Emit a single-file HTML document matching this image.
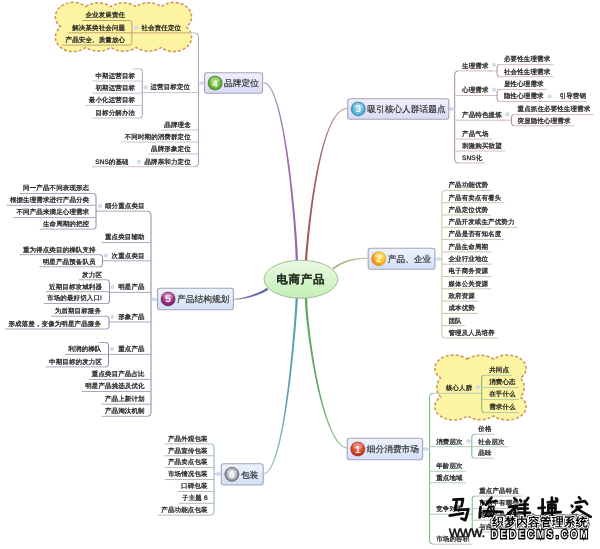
<!DOCTYPE html>
<html><head><meta charset="utf-8"><style>
html,body{margin:0;padding:0;background:#fff;}
svg{display:block;font-family:"Liberation Sans", sans-serif;text-rendering:geometricPrecision;will-change:transform;filter:blur(0.3px);}
</style></head><body>
<svg width="600" height="549" viewBox="0 0 600 549">
<rect width="600" height="549" fill="#fff"/>

<defs>
<linearGradient id="gc" x1="0" y1="0" x2="0" y2="1"><stop offset="0" stop-color="#eafae4"/><stop offset="1" stop-color="#c2f0b4"/></linearGradient>
<linearGradient id="gb" x1="0" y1="0" x2="0" y2="1"><stop offset="0" stop-color="#f0f0fc"/><stop offset="1" stop-color="#d8daf4"/></linearGradient>
<linearGradient id="gb2" x1="0" y1="0" x2="0" y2="1"><stop offset="0" stop-color="#eef3fc"/><stop offset="1" stop-color="#d2e0f6"/></linearGradient>
<radialGradient id="ig" cx="0.5" cy="0.5" r="0.5"><stop offset="0" stop-color="#a8d860"/><stop offset="0.7" stop-color="#72b838"/><stop offset="1" stop-color="#3a8a28"/></radialGradient>
<radialGradient id="ib" cx="0.5" cy="0.5" r="0.5"><stop offset="0" stop-color="#90d8ec"/><stop offset="0.7" stop-color="#5cb8d8"/><stop offset="1" stop-color="#2c88b0"/></radialGradient>
<radialGradient id="io" cx="0.65" cy="0.4" r="0.7"><stop offset="0" stop-color="#ffe040"/><stop offset="0.6" stop-color="#f8b020"/><stop offset="1" stop-color="#f07a10"/></radialGradient>
<radialGradient id="ir" cx="0.5" cy="0.4" r="0.6"><stop offset="0" stop-color="#f08060"/><stop offset="0.6" stop-color="#d84a30"/><stop offset="1" stop-color="#b02818"/></radialGradient>
<radialGradient id="iy" cx="0.5" cy="0.5" r="0.5"><stop offset="0" stop-color="#f4f4f4"/><stop offset="0.55" stop-color="#c0c0c8"/><stop offset="1" stop-color="#6a6a72"/></radialGradient>
<radialGradient id="ip" cx="0.5" cy="0.4" r="0.6"><stop offset="0" stop-color="#c878b0"/><stop offset="0.6" stop-color="#9a3a80"/><stop offset="1" stop-color="#6a1a58"/></radialGradient>
</defs>

<linearGradient id="cg1" gradientUnits="userSpaceOnUse" x1="296.8" y1="261" x2="263.7" y2="82.8"><stop offset="0" stop-color="#9a68ae"/><stop offset="0.55" stop-color="#9a68ae"/><stop offset="1" stop-color="#a898b0"/></linearGradient>
<path d="M298.00,261.00 L297.98,259.76 L297.94,258.31 L297.88,256.65 L297.79,254.80 L297.70,252.76 L297.58,250.54 L297.44,248.14 L297.28,245.58 L297.11,242.86 L296.91,239.99 L296.70,236.98 L296.47,233.83 L296.22,230.56 L295.95,227.17 L295.66,223.67 L295.35,220.07 L295.03,216.37 L294.69,212.59 L294.32,208.73 L293.94,204.80 L293.54,200.81 L293.13,196.76 L292.69,192.67 L292.24,188.54 L291.76,184.38 L291.27,180.20 L290.76,176.01 L290.24,171.81 L289.69,167.61 L289.13,163.43 L288.55,159.26 L287.95,155.12 L287.33,151.01 L286.70,146.95 L286.05,142.93 L285.38,138.98 L284.69,135.09 L283.99,131.28 L283.26,127.54 L282.52,123.90 L281.76,120.36 L280.99,116.93 L280.20,113.61 L279.39,110.41 L278.56,107.34 L277.71,104.41 L276.85,101.63 L275.97,99.00 L275.07,96.53 L274.15,94.23 L273.21,92.11 L272.26,90.18 L271.28,88.43 L270.28,86.89 L269.26,85.55 L268.22,84.43 L267.14,83.54 L266.02,82.88 L264.88,82.48 L263.70,82.35 L263.70,83.25 L264.66,83.38 L265.61,83.74 L266.56,84.33 L267.52,85.15 L268.47,86.21 L269.42,87.49 L270.36,88.98 L271.28,90.68 L272.19,92.58 L273.09,94.67 L273.97,96.94 L274.83,99.39 L275.68,102.00 L276.51,104.76 L277.33,107.68 L278.13,110.73 L278.91,113.92 L279.67,117.23 L280.42,120.65 L281.15,124.19 L281.86,127.82 L282.56,131.54 L283.24,135.35 L283.90,139.23 L284.54,143.18 L285.17,147.19 L285.78,151.25 L286.37,155.35 L286.94,159.48 L287.49,163.65 L288.03,167.83 L288.55,172.02 L289.05,176.22 L289.53,180.41 L290.00,184.58 L290.45,188.74 L290.87,192.86 L291.28,196.95 L291.68,200.99 L292.05,204.98 L292.41,208.90 L292.74,212.76 L293.06,216.54 L293.36,220.23 L293.64,223.83 L293.90,227.33 L294.15,230.71 L294.37,233.98 L294.58,237.12 L294.77,240.13 L294.94,242.99 L295.09,245.70 L295.22,248.26 L295.33,250.65 L295.42,252.86 L295.50,254.89 L295.55,256.73 L295.59,258.36 L295.60,259.79 L295.60,261.00Z" fill="url(#cg1)" stroke="none"/>
<linearGradient id="cg2" gradientUnits="userSpaceOnUse" x1="305.9" y1="261" x2="347" y2="108.6"><stop offset="0" stop-color="#a45a5a"/><stop offset="0.55" stop-color="#a45a5a"/><stop offset="1" stop-color="#b89898"/></linearGradient>
<path d="M305.90,261.00 L307.09,260.96 L307.11,260.59 L307.14,259.98 L307.19,259.14 L307.25,258.09 L307.34,256.82 L307.45,255.35 L307.57,253.69 L307.71,251.83 L307.88,249.81 L308.06,247.61 L308.26,245.25 L308.49,242.74 L308.73,240.08 L309.00,237.29 L309.29,234.37 L309.59,231.34 L309.93,228.19 L310.28,224.94 L310.65,221.60 L311.05,218.17 L311.47,214.67 L311.92,211.10 L312.39,207.48 L312.88,203.80 L313.40,200.08 L313.94,196.32 L314.51,192.54 L315.10,188.74 L315.71,184.94 L316.36,181.13 L317.02,177.34 L317.72,173.56 L318.44,169.80 L319.19,166.08 L319.96,162.41 L320.76,158.78 L321.59,155.21 L322.45,151.71 L323.33,148.29 L324.24,144.96 L325.19,141.71 L326.16,138.57 L327.15,135.54 L328.18,132.63 L329.24,129.85 L330.33,127.21 L331.44,124.71 L332.59,122.36 L333.76,120.17 L334.96,118.16 L336.19,116.33 L337.45,114.68 L338.74,113.23 L340.05,111.99 L341.39,110.96 L342.75,110.14 L344.14,109.55 L345.55,109.18 L347.00,109.05 L347.00,108.15 L345.40,108.27 L343.84,108.65 L342.31,109.27 L340.83,110.13 L339.39,111.21 L337.99,112.50 L336.63,114.00 L335.30,115.68 L334.02,117.56 L332.76,119.60 L331.54,121.82 L330.36,124.19 L329.20,126.72 L328.08,129.39 L326.99,132.19 L325.93,135.12 L324.89,138.17 L323.89,141.32 L322.92,144.58 L321.98,147.93 L321.07,151.36 L320.18,154.87 L319.32,158.45 L318.49,162.08 L317.69,165.77 L316.92,169.50 L316.17,173.26 L315.45,177.05 L314.76,180.85 L314.09,184.66 L313.44,188.47 L312.83,192.28 L312.23,196.06 L311.67,199.82 L311.12,203.55 L310.60,207.23 L310.11,210.87 L309.64,214.44 L309.19,217.95 L308.77,221.38 L308.37,224.72 L307.99,227.97 L307.63,231.12 L307.30,234.16 L306.98,237.09 L306.69,239.88 L306.42,242.54 L306.17,245.05 L305.94,247.42 L305.73,249.62 L305.55,251.65 L305.38,253.50 L305.23,255.17 L305.10,256.64 L304.99,257.91 L304.89,258.97 L304.82,259.81 L304.76,260.42 L304.72,260.79 L305.90,261.00Z" fill="url(#cg2)" stroke="none"/>
<linearGradient id="cg3" gradientUnits="userSpaceOnUse" x1="332.9" y1="268.75" x2="367.9" y2="258.3"><stop offset="0" stop-color="#bdb58a"/><stop offset="0.55" stop-color="#bdb58a"/><stop offset="1" stop-color="#c8c4a8"/></linearGradient>
<path d="M333.56,269.63 L334.00,269.30 L334.44,268.97 L334.89,268.64 L335.34,268.32 L335.78,268.00 L336.24,267.69 L336.69,267.38 L337.15,267.08 L337.60,266.79 L338.07,266.50 L338.53,266.21 L339.00,265.93 L339.47,265.66 L339.94,265.39 L340.42,265.12 L340.90,264.86 L341.39,264.61 L341.87,264.36 L342.37,264.11 L342.86,263.88 L343.36,263.64 L343.87,263.41 L344.38,263.19 L344.90,262.97 L345.42,262.76 L345.94,262.55 L346.47,262.35 L347.01,262.16 L347.55,261.97 L348.10,261.78 L348.65,261.60 L349.21,261.43 L349.78,261.26 L350.35,261.09 L350.93,260.94 L351.51,260.78 L352.10,260.64 L352.70,260.50 L353.31,260.36 L353.92,260.23 L354.54,260.11 L355.17,259.99 L355.80,259.87 L356.45,259.77 L357.10,259.66 L357.75,259.57 L358.42,259.48 L359.10,259.40 L359.78,259.32 L360.47,259.24 L361.17,259.18 L361.88,259.12 L362.60,259.06 L363.33,259.01 L364.07,258.97 L364.82,258.94 L365.57,258.91 L366.34,258.88 L367.11,258.86 L367.90,258.85 L367.90,257.75 L367.11,257.74 L366.32,257.74 L365.54,257.75 L364.78,257.76 L364.02,257.78 L363.27,257.81 L362.53,257.84 L361.80,257.87 L361.08,257.92 L360.36,257.97 L359.66,258.02 L358.96,258.08 L358.27,258.15 L357.59,258.22 L356.91,258.30 L356.24,258.39 L355.58,258.48 L354.93,258.58 L354.28,258.68 L353.64,258.79 L353.01,258.90 L352.39,259.03 L351.77,259.15 L351.15,259.29 L350.55,259.42 L349.95,259.57 L349.35,259.72 L348.76,259.88 L348.18,260.04 L347.60,260.21 L347.03,260.38 L346.46,260.56 L345.90,260.75 L345.35,260.94 L344.79,261.13 L344.25,261.34 L343.71,261.55 L343.17,261.76 L342.64,261.98 L342.11,262.21 L341.58,262.44 L341.06,262.67 L340.55,262.92 L340.03,263.16 L339.52,263.42 L339.02,263.68 L338.52,263.94 L338.02,264.21 L337.52,264.49 L337.03,264.77 L336.54,265.05 L336.05,265.34 L335.57,265.64 L335.09,265.94 L334.61,266.25 L334.13,266.56 L333.66,266.88 L333.18,267.20 L332.71,267.53 L332.24,267.87Z" fill="url(#cg3)" stroke="none"/>
<linearGradient id="cg4" gradientUnits="userSpaceOnUse" x1="267.5" y1="288.75" x2="233.75" y2="299.2"><stop offset="0" stop-color="#6464aa"/><stop offset="0.55" stop-color="#6464aa"/><stop offset="1" stop-color="#a0a0c0"/></linearGradient>
<path d="M266.71,287.72 L266.45,287.93 L266.18,288.14 L265.89,288.36 L265.58,288.58 L265.25,288.80 L264.90,289.03 L264.53,289.26 L264.15,289.50 L263.75,289.74 L263.33,289.98 L262.90,290.22 L262.45,290.46 L261.99,290.70 L261.52,290.94 L261.03,291.19 L260.53,291.43 L260.02,291.68 L259.50,291.92 L258.96,292.17 L258.42,292.41 L257.86,292.65 L257.30,292.89 L256.73,293.13 L256.15,293.37 L255.56,293.60 L254.96,293.83 L254.36,294.06 L253.75,294.29 L253.13,294.52 L252.51,294.74 L251.88,294.96 L251.25,295.17 L250.62,295.38 L249.98,295.59 L249.34,295.79 L248.69,295.98 L248.05,296.18 L247.40,296.36 L246.75,296.55 L246.10,296.72 L245.45,296.89 L244.81,297.06 L244.16,297.22 L243.51,297.37 L242.87,297.52 L242.22,297.65 L241.59,297.79 L240.95,297.91 L240.32,298.03 L239.69,298.14 L239.07,298.24 L238.45,298.33 L237.84,298.41 L237.23,298.49 L236.63,298.56 L236.04,298.61 L235.45,298.66 L234.88,298.70 L234.31,298.73 L233.75,298.75 L233.75,299.65 L234.33,299.66 L234.91,299.66 L235.50,299.65 L236.11,299.63 L236.71,299.59 L237.33,299.55 L237.95,299.51 L238.58,299.45 L239.22,299.38 L239.86,299.31 L240.50,299.22 L241.15,299.13 L241.81,299.03 L242.47,298.93 L243.13,298.81 L243.79,298.69 L244.45,298.57 L245.12,298.43 L245.78,298.29 L246.45,298.15 L247.12,298.00 L247.79,297.84 L248.45,297.67 L249.12,297.51 L249.78,297.33 L250.44,297.16 L251.10,296.97 L251.76,296.79 L252.41,296.59 L253.05,296.40 L253.70,296.20 L254.33,296.00 L254.97,295.79 L255.59,295.59 L256.21,295.38 L256.82,295.16 L257.43,294.95 L258.02,294.73 L258.61,294.51 L259.19,294.29 L259.76,294.06 L260.33,293.84 L260.88,293.62 L261.42,293.39 L261.95,293.16 L262.46,292.94 L262.97,292.71 L263.46,292.48 L263.94,292.25 L264.41,292.02 L264.87,291.80 L265.31,291.57 L265.73,291.34 L266.15,291.12 L266.54,290.89 L266.92,290.67 L267.29,290.45 L267.64,290.22 L267.98,290.00 L268.29,289.78Z" fill="url(#cg4)" stroke="none"/>
<linearGradient id="cg5" gradientUnits="userSpaceOnUse" x1="296.8" y1="297.5" x2="263.5" y2="473.7"><stop offset="0" stop-color="#5a9cb0"/><stop offset="0.55" stop-color="#5a9cb0"/><stop offset="1" stop-color="#98c0c8"/></linearGradient>
<path d="M295.60,297.50 L295.60,297.81 L295.59,298.43 L295.56,299.31 L295.51,300.45 L295.44,301.82 L295.35,303.43 L295.25,305.26 L295.12,307.31 L294.98,309.56 L294.82,312.00 L294.65,314.63 L294.45,317.44 L294.24,320.41 L294.00,323.53 L293.75,326.81 L293.48,330.22 L293.19,333.76 L292.89,337.41 L292.56,341.18 L292.22,345.05 L291.86,349.01 L291.48,353.05 L291.08,357.16 L290.66,361.33 L290.23,365.56 L289.77,369.82 L289.30,374.13 L288.81,378.46 L288.30,382.80 L287.77,387.15 L287.22,391.49 L286.65,395.82 L286.07,400.13 L285.47,404.41 L284.84,408.64 L284.20,412.83 L283.54,416.95 L282.86,421.00 L282.16,424.98 L281.45,428.86 L280.71,432.65 L279.96,436.33 L279.18,439.89 L278.39,443.33 L277.58,446.63 L276.75,449.78 L275.90,452.78 L275.03,455.61 L274.15,458.27 L273.24,460.75 L272.32,463.02 L271.38,465.10 L270.43,466.96 L269.46,468.60 L268.48,470.00 L267.49,471.16 L266.49,472.07 L265.50,472.72 L264.50,473.11 L263.50,473.25 L263.50,474.15 L264.73,474.01 L265.93,473.56 L267.08,472.84 L268.20,471.86 L269.29,470.63 L270.34,469.17 L271.37,467.49 L272.37,465.58 L273.35,463.47 L274.31,461.16 L275.25,458.66 L276.17,455.98 L277.07,453.13 L277.95,450.12 L278.81,446.95 L279.65,443.63 L280.47,440.19 L281.28,436.61 L282.06,432.92 L282.82,429.13 L283.56,425.24 L284.29,421.25 L285.00,417.19 L285.68,413.06 L286.35,408.87 L287.00,404.63 L287.63,400.35 L288.24,396.04 L288.83,391.70 L289.41,387.35 L289.96,383.00 L290.50,378.66 L291.01,374.32 L291.51,370.02 L291.99,365.75 L292.45,361.52 L292.90,357.34 L293.32,353.23 L293.73,349.19 L294.11,345.23 L294.48,341.36 L294.83,337.59 L295.16,333.92 L295.48,330.38 L295.77,326.97 L296.05,323.69 L296.30,320.57 L296.54,317.59 L296.77,314.79 L296.97,312.16 L297.15,309.71 L297.32,307.46 L297.47,305.41 L297.60,303.57 L297.71,301.96 L297.80,300.58 L297.88,299.44 L297.94,298.54 L297.98,297.90 L298.00,297.50Z" fill="url(#cg5)" stroke="none"/>
<linearGradient id="cg6" gradientUnits="userSpaceOnUse" x1="306" y1="297.5" x2="348.2" y2="448.2"><stop offset="0" stop-color="#5fa860"/><stop offset="0.55" stop-color="#5fa860"/><stop offset="1" stop-color="#98c098"/></linearGradient>
<path d="M304.80,297.50 L304.83,298.92 L304.88,300.50 L304.96,302.22 L305.06,304.08 L305.19,306.08 L305.35,308.21 L305.53,310.47 L305.73,312.85 L305.97,315.34 L306.22,317.93 L306.50,320.63 L306.81,323.42 L307.14,326.30 L307.50,329.27 L307.88,332.31 L308.28,335.42 L308.71,338.59 L309.16,341.83 L309.64,345.11 L310.13,348.44 L310.66,351.81 L311.20,355.22 L311.77,358.65 L312.36,362.10 L312.98,365.57 L313.62,369.05 L314.28,372.53 L314.96,376.00 L315.67,379.47 L316.39,382.92 L317.14,386.35 L317.91,389.75 L318.71,393.12 L319.52,396.44 L320.36,399.72 L321.22,402.95 L322.10,406.12 L323.00,409.22 L323.92,412.26 L324.86,415.21 L325.82,418.08 L326.81,420.87 L327.81,423.55 L328.84,426.14 L329.88,428.62 L330.95,430.98 L332.04,433.23 L333.15,435.35 L334.27,437.33 L335.42,439.18 L336.60,440.89 L337.79,442.44 L339.01,443.84 L340.24,445.08 L341.51,446.14 L342.80,447.03 L344.11,447.74 L345.45,448.25 L346.82,448.55 L348.20,448.65 L348.20,447.75 L346.96,447.64 L345.74,447.34 L344.53,446.85 L343.33,446.18 L342.14,445.33 L340.96,444.31 L339.80,443.11 L338.65,441.75 L337.51,440.23 L336.39,438.56 L335.29,436.74 L334.20,434.78 L333.13,432.68 L332.08,430.46 L331.05,428.11 L330.04,425.65 L329.05,423.08 L328.08,420.41 L327.12,417.64 L326.19,414.78 L325.28,411.84 L324.39,408.82 L323.52,405.72 L322.67,402.56 L321.84,399.34 L321.03,396.07 L320.24,392.75 L319.47,389.40 L318.73,386.00 L318.01,382.58 L317.31,379.14 L316.63,375.68 L315.97,372.21 L315.34,368.73 L314.73,365.26 L314.14,361.80 L313.57,358.35 L313.03,354.93 L312.51,351.53 L312.01,348.16 L311.54,344.84 L311.09,341.56 L310.67,338.33 L310.26,335.16 L309.89,332.06 L309.53,329.03 L309.20,326.07 L308.90,323.20 L308.62,320.41 L308.36,317.73 L308.13,315.14 L307.93,312.66 L307.75,310.30 L307.59,308.06 L307.46,305.94 L307.36,303.96 L307.28,302.12 L307.23,300.42 L307.20,298.88 L307.20,297.50Z" fill="url(#cg6)" stroke="none"/>
<path d="M85.76,6.60 A22.82,22.82 0 0 1 110.92,6.60 A22.82,22.82 0 0 1 136.08,6.60 A22.82,22.82 0 0 1 161.24,6.60 A17.79,14.42 0 1 1 186.40,27.00 A17.79,14.42 0 1 1 161.24,47.40 A22.82,22.82 0 0 1 136.08,47.40 A22.82,22.82 0 0 1 110.92,47.40 A22.82,22.82 0 0 1 85.76,47.40 A17.79,14.42 0 1 1 60.60,27.00 A17.79,14.42 0 1 1 85.76,6.60Z" fill="#fcf4a0" stroke="#d0905a" stroke-width="1.5" stroke-dasharray="3,2"/>
<path d="M467.20,359.10 A25.29,25.29 0 0 1 493.80,359.10 A18.81,13.39 0 1 1 520.40,378.03 A13.74,13.74 0 0 1 520.40,396.97 A18.81,13.39 0 1 1 493.80,415.90 A25.29,25.29 0 0 1 467.20,415.90 A18.81,13.39 0 1 1 440.60,396.97 A13.74,13.74 0 0 1 440.60,378.03 A18.81,13.39 0 1 1 467.20,359.10Z" fill="#fcf4a0" stroke="#d0905a" stroke-width="1.5" stroke-dasharray="3,2"/>
<path d="M194.9,32.9Q198.4,32.9 198.4,36.4V163.2Q198.4,166.7 194.9,166.7" fill="none" stroke="#a898b8" stroke-width="1.0" />
<path d="M198.4,83.1H204.5" fill="none" stroke="#c8cce8" stroke-width="1.6" />
<circle cx="201.4" cy="83.1" r="2.1" fill="#d2daee" stroke="none" stroke-width="0"/>
<text x="181.1" y="29.7" text-anchor="end" font-size="6.5" fill="#2a2a2a" font-weight="normal" stroke="#2a2a2a" stroke-width="0.3" textLength="39.6" lengthAdjust="spacing" >社会责任定位</text>
<path d="M131.9,32.9H189" fill="none" stroke="#c8a878" stroke-width="1.0" />
<path d="M189,32.9H194.9" fill="none" stroke="#cdbfd6" stroke-width="1.0" />
<circle cx="136.1" cy="27.5" r="2.1" fill="#d2daee" stroke="none" stroke-width="0"/>
<path d="M129.4,20.5Q131.9,20.5 131.9,23.0V42.6Q131.9,45.1 129.4,45.1" fill="none" stroke="#b8a078" stroke-width="1.0" />
<text x="125" y="17.3" text-anchor="end" font-size="6.5" fill="#2a2a2a" font-weight="normal" stroke="#2a2a2a" stroke-width="0.3" textLength="39.6" lengthAdjust="spacing" >企业发展责任</text>
<path d="M82.1,20.5H129.4" fill="none" stroke="#c0a070" stroke-width="1.0" />
<text x="125" y="29.599999999999998" text-anchor="end" font-size="6.5" fill="#2a2a2a" font-weight="normal" stroke="#2a2a2a" stroke-width="0.3" textLength="52.8" lengthAdjust="spacing" >解决某类社会问题</text>
<path d="M68.9,32.8H131.9" fill="none" stroke="#c0a070" stroke-width="1.0" />
<text x="125" y="41.9" text-anchor="end" font-size="6.5" fill="#2a2a2a" font-weight="normal" stroke="#2a2a2a" stroke-width="0.3" textLength="59.4" lengthAdjust="spacing" >产品安全、质量放心</text>
<path d="M62.3,45.1H129.4" fill="none" stroke="#c0a070" stroke-width="1.0" />
<text x="190.1" y="89.39999999999999" text-anchor="end" font-size="6.5" fill="#2a2a2a" font-weight="normal" stroke="#2a2a2a" stroke-width="0.3" textLength="39.6" lengthAdjust="spacing" >运营目标定位</text>
<path d="M142.3,92.6H198.4" fill="none" stroke="#cdbfd6" stroke-width="1.0" />
<circle cx="145.7" cy="87.3" r="2.1" fill="#d2daee" stroke="none" stroke-width="0"/>
<path d="M139.8,68.9Q142.3,68.9 142.3,71.4V115.5Q142.3,118 139.8,118" fill="none" stroke="#a898b8" stroke-width="1.0" />
<path d="M133,68.9H139.8" fill="none" stroke="#cdbfd6" stroke-width="1.0" />
<text x="135" y="77.89999999999999" text-anchor="end" font-size="6.5" fill="#2a2a2a" font-weight="normal" stroke="#2a2a2a" stroke-width="0.3" textLength="39.6" lengthAdjust="spacing" >中期运营目标</text>
<path d="M92.1,81.1H142.3" fill="none" stroke="#cdbfd6" stroke-width="1.0" />
<text x="135" y="90.0" text-anchor="end" font-size="6.5" fill="#2a2a2a" font-weight="normal" stroke="#2a2a2a" stroke-width="0.3" textLength="39.6" lengthAdjust="spacing" >初期运营目标</text>
<path d="M92.1,93.2H142.3" fill="none" stroke="#cdbfd6" stroke-width="1.0" />
<text x="135" y="102.2" text-anchor="end" font-size="6.5" fill="#2a2a2a" font-weight="normal" stroke="#2a2a2a" stroke-width="0.3" textLength="46.2" lengthAdjust="spacing" >最小化运营目标</text>
<path d="M85.5,105.4H142.3" fill="none" stroke="#cdbfd6" stroke-width="1.0" />
<text x="135" y="114.8" text-anchor="end" font-size="6.5" fill="#2a2a2a" font-weight="normal" stroke="#2a2a2a" stroke-width="0.3" textLength="39.6" lengthAdjust="spacing" >目标分解办法</text>
<path d="M92.1,118H139.8" fill="none" stroke="#cdbfd6" stroke-width="1.0" />
<text x="190.7" y="126.8" text-anchor="end" font-size="6.5" fill="#2a2a2a" font-weight="normal" stroke="#2a2a2a" stroke-width="0.3" textLength="26.4" lengthAdjust="spacing" >品牌理念</text>
<path d="M161.0,130H198.4" fill="none" stroke="#cdbfd6" stroke-width="1.0" />
<text x="190.7" y="138.8" text-anchor="end" font-size="6.5" fill="#2a2a2a" font-weight="normal" stroke="#2a2a2a" stroke-width="0.3" textLength="66.0" lengthAdjust="spacing" >不同时期的消费群定位</text>
<path d="M121.4,142H198.4" fill="none" stroke="#cdbfd6" stroke-width="1.0" />
<text x="190.7" y="150.8" text-anchor="end" font-size="6.5" fill="#2a2a2a" font-weight="normal" stroke="#2a2a2a" stroke-width="0.3" textLength="39.6" lengthAdjust="spacing" >品牌形象定位</text>
<path d="M147.8,154H198.4" fill="none" stroke="#cdbfd6" stroke-width="1.0" />
<text x="190.7" y="163.5" text-anchor="end" font-size="6.5" fill="#2a2a2a" font-weight="normal" stroke="#2a2a2a" stroke-width="0.3" textLength="46.2" lengthAdjust="spacing" >品牌亲和力定位</text>
<circle cx="139" cy="161.8" r="2.1" fill="#d2daee" stroke="none" stroke-width="0"/>
<text x="128.5" y="163.5" text-anchor="end" font-size="6.5" fill="#2a2a2a" font-weight="normal" stroke="#2a2a2a" stroke-width="0.3" textLength="33.3" lengthAdjust="spacing" >SNS的基础</text>
<path d="M91.9,166.7H194.9" fill="none" stroke="#cdbfd6" stroke-width="1.0" />
<path d="M458.2,70.9Q454.7,70.9 454.7,74.4V159.5Q454.7,163 458.2,163" fill="none" stroke="#a89098" stroke-width="1.0" />
<path d="M449,109.1H454.7" fill="none" stroke="#c8cce8" stroke-width="1.6" />
<circle cx="451.5" cy="109.1" r="2.1" fill="#d2daee" stroke="none" stroke-width="0"/>
<text x="462.1" y="67.7" text-anchor="start" font-size="6.5" fill="#2a2a2a" font-weight="normal" stroke="#2a2a2a" stroke-width="0.3" textLength="26.4" lengthAdjust="spacing" >生理需求</text>
<path d="M458.2,70.9H491.8" fill="none" stroke="#d0bcc2" stroke-width="1.0" />
<path d="M488,70.9H497.1" fill="none" stroke="#d0bcc2" stroke-width="1.0" />
<circle cx="494" cy="64.8" r="2.1" fill="#d2daee" stroke="none" stroke-width="0"/>
<path d="M499.6,64.6Q497.1,64.6 497.1,67.1V74.2Q497.1,76.7 499.6,76.7" fill="none" stroke="#a89098" stroke-width="1.0" />
<text x="504" y="61.39999999999999" text-anchor="start" font-size="6.5" fill="#2a2a2a" font-weight="normal" stroke="#2a2a2a" stroke-width="0.3" textLength="46.2" lengthAdjust="spacing" >必要性生理需求</text>
<path d="M499.6,64.6H553.5" fill="none" stroke="#d0bcc2" stroke-width="1.0" />
<text x="504" y="73.5" text-anchor="start" font-size="6.5" fill="#2a2a2a" font-weight="normal" stroke="#2a2a2a" stroke-width="0.3" textLength="46.2" lengthAdjust="spacing" >社会性生理需求</text>
<path d="M499.6,76.7H553.5" fill="none" stroke="#d0bcc2" stroke-width="1.0" />
<text x="462.1" y="92.3" text-anchor="start" font-size="6.5" fill="#2a2a2a" font-weight="normal" stroke="#2a2a2a" stroke-width="0.3" textLength="26.4" lengthAdjust="spacing" >心理需求</text>
<path d="M454.7,95.5H491.8" fill="none" stroke="#d0bcc2" stroke-width="1.0" />
<path d="M488,95.5H497.1" fill="none" stroke="#d0bcc2" stroke-width="1.0" />
<circle cx="494" cy="89.6" r="2.1" fill="#d2daee" stroke="none" stroke-width="0"/>
<path d="M499.6,89.4Q497.1,89.4 497.1,91.9V99.0Q497.1,101.5 499.6,101.5" fill="none" stroke="#a89098" stroke-width="1.0" />
<text x="504" y="86.2" text-anchor="start" font-size="6.5" fill="#2a2a2a" font-weight="normal" stroke="#2a2a2a" stroke-width="0.3" textLength="39.6" lengthAdjust="spacing" >显性心理需求</text>
<path d="M499.6,89.4H546.9" fill="none" stroke="#d0bcc2" stroke-width="1.0" />
<text x="504" y="98.3" text-anchor="start" font-size="6.5" fill="#2a2a2a" font-weight="normal" stroke="#2a2a2a" stroke-width="0.3" textLength="39.6" lengthAdjust="spacing" >隐性心理需求</text>
<path d="M499.6,101.5H546.9" fill="none" stroke="#d0bcc2" stroke-width="1.0" />
<path d="M545,101.5H587" fill="none" stroke="#d0bcc2" stroke-width="1.0" />
<circle cx="549.6" cy="96.5" r="2.1" fill="#d2daee" stroke="none" stroke-width="0"/>
<text x="559.6" y="98.3" text-anchor="start" font-size="6.5" fill="#2a2a2a" font-weight="normal" stroke="#2a2a2a" stroke-width="0.3" textLength="26.4" lengthAdjust="spacing" >引导营销</text>
<text x="462.1" y="117.0" text-anchor="start" font-size="6.5" fill="#2a2a2a" font-weight="normal" stroke="#2a2a2a" stroke-width="0.3" textLength="39.6" lengthAdjust="spacing" >产品特色提炼</text>
<path d="M454.7,120.2H505.0" fill="none" stroke="#d0bcc2" stroke-width="1.0" />
<path d="M501,120.2H511.5" fill="none" stroke="#d0bcc2" stroke-width="1.0" />
<circle cx="507.3" cy="114.4" r="2.1" fill="#d2daee" stroke="none" stroke-width="0"/>
<path d="M514.0,114.6Q511.5,114.6 511.5,117.1V123.3Q511.5,125.8 514.0,125.8" fill="none" stroke="#a89098" stroke-width="1.0" />
<text x="517.6" y="111.39999999999999" text-anchor="start" font-size="6.5" fill="#2a2a2a" font-weight="normal" stroke="#2a2a2a" stroke-width="0.3" textLength="72.6" lengthAdjust="spacing" >重点抓住必要性生理需求</text>
<path d="M514.0,114.6H593.5" fill="none" stroke="#d0bcc2" stroke-width="1.0" />
<text x="517.6" y="122.6" text-anchor="start" font-size="6.5" fill="#2a2a2a" font-weight="normal" stroke="#2a2a2a" stroke-width="0.3" textLength="52.8" lengthAdjust="spacing" >突显隐性心理需求</text>
<path d="M514.0,125.8H573.7" fill="none" stroke="#d0bcc2" stroke-width="1.0" />
<text x="462.1" y="135.9" text-anchor="start" font-size="6.5" fill="#2a2a2a" font-weight="normal" stroke="#2a2a2a" stroke-width="0.3" textLength="26.4" lengthAdjust="spacing" >产品气场</text>
<path d="M454.7,139.1H491.8" fill="none" stroke="#d0bcc2" stroke-width="1.0" />
<text x="462.1" y="147.8" text-anchor="start" font-size="6.5" fill="#2a2a2a" font-weight="normal" stroke="#2a2a2a" stroke-width="0.3" textLength="39.6" lengthAdjust="spacing" >刺激购买欲望</text>
<path d="M454.7,151H505.0" fill="none" stroke="#d0bcc2" stroke-width="1.0" />
<text x="462.1" y="159.8" text-anchor="start" font-size="6.5" fill="#2a2a2a" font-weight="normal" stroke="#2a2a2a" stroke-width="0.3" textLength="20.1" lengthAdjust="spacing" >SNS化</text>
<path d="M458.2,163H485.5" fill="none" stroke="#d0bcc2" stroke-width="1.0" />
<path d="M445.4,190.4Q441.9,190.4 441.9,193.9V334.5Q441.9,338.0 445.4,338.0" fill="none" stroke="#cec690" stroke-width="1.0" />
<path d="M435,258.9H441.9" fill="none" stroke="#c8cce8" stroke-width="1.6" />
<circle cx="438.5" cy="258.9" r="2.1" fill="#d2daee" stroke="none" stroke-width="0"/>
<text x="448.4" y="187.20000000000002" text-anchor="start" font-size="6.5" fill="#2a2a2a" font-weight="normal" stroke="#2a2a2a" stroke-width="0.3" textLength="39.6" lengthAdjust="spacing" >产品功能优势</text>
<path d="M445.4,190.4H491.3" fill="none" stroke="#c8c6b2" stroke-width="1.0" />
<text x="448.4" y="199.5" text-anchor="start" font-size="6.5" fill="#2a2a2a" font-weight="normal" stroke="#2a2a2a" stroke-width="0.3" textLength="52.8" lengthAdjust="spacing" >产品有卖点有看头</text>
<path d="M441.9,202.7H504.5" fill="none" stroke="#c8c6b2" stroke-width="1.0" />
<text x="448.4" y="211.8" text-anchor="start" font-size="6.5" fill="#2a2a2a" font-weight="normal" stroke="#2a2a2a" stroke-width="0.3" textLength="39.6" lengthAdjust="spacing" >产品定位优势</text>
<path d="M441.9,215.0H491.3" fill="none" stroke="#c8c6b2" stroke-width="1.0" />
<text x="448.4" y="224.10000000000002" text-anchor="start" font-size="6.5" fill="#2a2a2a" font-weight="normal" stroke="#2a2a2a" stroke-width="0.3" textLength="66.0" lengthAdjust="spacing" >产品开发或生产优势力</text>
<path d="M441.9,227.3H517.7" fill="none" stroke="#c8c6b2" stroke-width="1.0" />
<text x="448.4" y="236.4" text-anchor="start" font-size="6.5" fill="#2a2a2a" font-weight="normal" stroke="#2a2a2a" stroke-width="0.3" textLength="52.8" lengthAdjust="spacing" >产品是否有知名度</text>
<path d="M441.9,239.6H504.5" fill="none" stroke="#c8c6b2" stroke-width="1.0" />
<text x="448.4" y="248.70000000000002" text-anchor="start" font-size="6.5" fill="#2a2a2a" font-weight="normal" stroke="#2a2a2a" stroke-width="0.3" textLength="39.6" lengthAdjust="spacing" >产品生命周期</text>
<path d="M441.9,251.9H491.3" fill="none" stroke="#c8c6b2" stroke-width="1.0" />
<text x="448.4" y="261.0" text-anchor="start" font-size="6.5" fill="#2a2a2a" font-weight="normal" stroke="#2a2a2a" stroke-width="0.3" textLength="39.6" lengthAdjust="spacing" >企业行业地位</text>
<path d="M441.9,264.2H491.3" fill="none" stroke="#c8c6b2" stroke-width="1.0" />
<text x="448.4" y="273.3" text-anchor="start" font-size="6.5" fill="#2a2a2a" font-weight="normal" stroke="#2a2a2a" stroke-width="0.3" textLength="39.6" lengthAdjust="spacing" >电子商务资源</text>
<path d="M441.9,276.5H491.3" fill="none" stroke="#c8c6b2" stroke-width="1.0" />
<text x="448.4" y="285.6" text-anchor="start" font-size="6.5" fill="#2a2a2a" font-weight="normal" stroke="#2a2a2a" stroke-width="0.3" textLength="39.6" lengthAdjust="spacing" >媒体公关资源</text>
<path d="M441.9,288.8H491.3" fill="none" stroke="#c8c6b2" stroke-width="1.0" />
<text x="448.4" y="297.90000000000003" text-anchor="start" font-size="6.5" fill="#2a2a2a" font-weight="normal" stroke="#2a2a2a" stroke-width="0.3" textLength="26.4" lengthAdjust="spacing" >政府资源</text>
<path d="M441.9,301.1H478.1" fill="none" stroke="#c8c6b2" stroke-width="1.0" />
<text x="448.4" y="310.2" text-anchor="start" font-size="6.5" fill="#2a2a2a" font-weight="normal" stroke="#2a2a2a" stroke-width="0.3" textLength="26.4" lengthAdjust="spacing" >成本优势</text>
<path d="M441.9,313.4H478.1" fill="none" stroke="#c8c6b2" stroke-width="1.0" />
<text x="448.4" y="322.5" text-anchor="start" font-size="6.5" fill="#2a2a2a" font-weight="normal" stroke="#2a2a2a" stroke-width="0.3" textLength="13.2" lengthAdjust="spacing" >团队</text>
<path d="M441.9,325.7H464.9" fill="none" stroke="#c8c6b2" stroke-width="1.0" />
<text x="448.4" y="334.8" text-anchor="start" font-size="6.5" fill="#2a2a2a" font-weight="normal" stroke="#2a2a2a" stroke-width="0.3" textLength="46.2" lengthAdjust="spacing" >管理及人员培养</text>
<path d="M445.4,338.0H497.9" fill="none" stroke="#c8c6b2" stroke-width="1.0" />
<path d="M147.5,211.2Q151,211.2 151,214.7V412.8Q151,416.3 147.5,416.3" fill="none" stroke="#8888a8" stroke-width="1.0" />
<path d="M151,299.4H157.3" fill="none" stroke="#c8cce8" stroke-width="1.6" />
<circle cx="154" cy="299.4" r="2.1" fill="#d2daee" stroke="none" stroke-width="0"/>
<text x="144.6" y="208.0" text-anchor="end" font-size="6.5" fill="#2a2a2a" font-weight="normal" stroke="#2a2a2a" stroke-width="0.3" textLength="39.6" lengthAdjust="spacing" >细分重点类目</text>
<path d="M96,211.2H147.5" fill="none" stroke="#a8a8bc" stroke-width="1.0" />
<circle cx="100.1" cy="206.1" r="2.1" fill="#d2daee" stroke="none" stroke-width="0"/>
<path d="M93.5,193.5Q96,193.5 96,196.0V226.6Q96,229.1 93.5,229.1" fill="none" stroke="#8888a8" stroke-width="1.0" />
<text x="89.1" y="190.3" text-anchor="end" font-size="6.5" fill="#2a2a2a" font-weight="normal" stroke="#2a2a2a" stroke-width="0.3" textLength="66.0" lengthAdjust="spacing" >同一产品不同表现形态</text>
<path d="M19.8,193.5H93.5" fill="none" stroke="#a8a8bc" stroke-width="1.0" />
<text x="89.1" y="202.10000000000002" text-anchor="end" font-size="6.5" fill="#2a2a2a" font-weight="normal" stroke="#2a2a2a" stroke-width="0.3" textLength="79.2" lengthAdjust="spacing" >根据生理需求进行产品分类</text>
<path d="M6.6,205.3H96" fill="none" stroke="#a8a8bc" stroke-width="1.0" />
<text x="89.1" y="214.4" text-anchor="end" font-size="6.5" fill="#2a2a2a" font-weight="normal" stroke="#2a2a2a" stroke-width="0.3" textLength="72.6" lengthAdjust="spacing" >不同产品来满足心理需求</text>
<path d="M13.2,217.6H96" fill="none" stroke="#a8a8bc" stroke-width="1.0" />
<text x="89.1" y="225.9" text-anchor="end" font-size="6.5" fill="#2a2a2a" font-weight="normal" stroke="#2a2a2a" stroke-width="0.3" textLength="46.2" lengthAdjust="spacing" >生命周期的把控</text>
<path d="M39.6,229.1H93.5" fill="none" stroke="#a8a8bc" stroke-width="1.0" />
<text x="144.6" y="239.4" text-anchor="end" font-size="6.5" fill="#2a2a2a" font-weight="normal" stroke="#2a2a2a" stroke-width="0.3" textLength="39.6" lengthAdjust="spacing" >重点类目辅助</text>
<path d="M101.7,242.6H151" fill="none" stroke="#a8a8bc" stroke-width="1.0" />
<text x="144.6" y="257.6" text-anchor="end" font-size="6.5" fill="#2a2a2a" font-weight="normal" stroke="#2a2a2a" stroke-width="0.3" textLength="33.0" lengthAdjust="spacing" >次重点类目</text>
<path d="M102.5,260.8H151" fill="none" stroke="#a8a8bc" stroke-width="1.0" />
<circle cx="105.9" cy="255.7" r="2.1" fill="#d2daee" stroke="none" stroke-width="0"/>
<path d="M100.0,254.7Q102.5,254.7 102.5,257.2V264.3Q102.5,266.8 100.0,266.8" fill="none" stroke="#8888a8" stroke-width="1.0" />
<text x="95.5" y="251.5" text-anchor="end" font-size="6.5" fill="#2a2a2a" font-weight="normal" stroke="#2a2a2a" stroke-width="0.3" textLength="72.6" lengthAdjust="spacing" >重为得点类目的梯队支持</text>
<path d="M19.6,254.7H100.0" fill="none" stroke="#a8a8bc" stroke-width="1.0" />
<text x="95.5" y="263.6" text-anchor="end" font-size="6.5" fill="#2a2a2a" font-weight="normal" stroke="#2a2a2a" stroke-width="0.3" textLength="52.8" lengthAdjust="spacing" >明星产品预备队员</text>
<path d="M39.4,266.8H100.0" fill="none" stroke="#a8a8bc" stroke-width="1.0" />
<text x="144.6" y="289.2" text-anchor="end" font-size="6.5" fill="#2a2a2a" font-weight="normal" stroke="#2a2a2a" stroke-width="0.3" textLength="26.4" lengthAdjust="spacing" >明星产品</text>
<path d="M109.5,292.4H151" fill="none" stroke="#a8a8bc" stroke-width="1.0" />
<circle cx="112.5" cy="287" r="2.1" fill="#d2daee" stroke="none" stroke-width="0"/>
<path d="M107.0,279.8Q109.5,279.8 109.5,282.3V301.0Q109.5,303.5 107.0,303.5" fill="none" stroke="#8888a8" stroke-width="1.0" />
<text x="101.9" y="276.6" text-anchor="end" font-size="6.5" fill="#2a2a2a" font-weight="normal" stroke="#2a2a2a" stroke-width="0.3" textLength="19.8" lengthAdjust="spacing" >发力区</text>
<path d="M78.8,279.8H107.0" fill="none" stroke="#a8a8bc" stroke-width="1.0" />
<text x="101.9" y="288.5" text-anchor="end" font-size="6.5" fill="#2a2a2a" font-weight="normal" stroke="#2a2a2a" stroke-width="0.3" textLength="52.8" lengthAdjust="spacing" >近期目标攻城利器</text>
<path d="M45.8,291.7H109.5" fill="none" stroke="#a8a8bc" stroke-width="1.0" />
<text x="101.9" y="300.3" text-anchor="end" font-size="6.5" fill="#2a2a2a" font-weight="normal" stroke="#2a2a2a" stroke-width="0.3" textLength="54.8" lengthAdjust="spacing" >市场的最好切入口!</text>
<path d="M43.8,303.5H107.0" fill="none" stroke="#a8a8bc" stroke-width="1.0" />
<text x="144.6" y="318.8" text-anchor="end" font-size="6.5" fill="#2a2a2a" font-weight="normal" stroke="#2a2a2a" stroke-width="0.3" textLength="26.4" lengthAdjust="spacing" >形象产品</text>
<path d="M109,322H151" fill="none" stroke="#a8a8bc" stroke-width="1.0" />
<circle cx="112.3" cy="317" r="2.1" fill="#d2daee" stroke="none" stroke-width="0"/>
<path d="M106.5,316.3Q109,316.3 109,318.8V326.5Q109,329 106.5,329" fill="none" stroke="#8888a8" stroke-width="1.0" />
<text x="100.9" y="313.1" text-anchor="end" font-size="6.5" fill="#2a2a2a" font-weight="normal" stroke="#2a2a2a" stroke-width="0.3" textLength="46.2" lengthAdjust="spacing" >为后期目标服务</text>
<path d="M51.4,316.3H106.5" fill="none" stroke="#a8a8bc" stroke-width="1.0" />
<text x="100.9" y="325.8" text-anchor="end" font-size="6.5" fill="#2a2a2a" font-weight="normal" stroke="#2a2a2a" stroke-width="0.3" textLength="92.4" lengthAdjust="spacing" >形成落差，变像为明星产品服务</text>
<path d="M5.2,329H106.5" fill="none" stroke="#a8a8bc" stroke-width="1.0" />
<text x="144.6" y="351.2" text-anchor="end" font-size="6.5" fill="#2a2a2a" font-weight="normal" stroke="#2a2a2a" stroke-width="0.3" textLength="26.4" lengthAdjust="spacing" >重点产品</text>
<path d="M108.5,354.4H151" fill="none" stroke="#a8a8bc" stroke-width="1.0" />
<circle cx="112" cy="349.2" r="2.1" fill="#d2daee" stroke="none" stroke-width="0"/>
<path d="M106.0,342.5Q108.5,342.5 108.5,345.0V364.4Q108.5,366.9 106.0,366.9" fill="none" stroke="#8888a8" stroke-width="1.0" />
<path d="M98.8,342.5H106" fill="none" stroke="#a8a8bc" stroke-width="1.0" />
<text x="101.3" y="351.2" text-anchor="end" font-size="6.5" fill="#2a2a2a" font-weight="normal" stroke="#2a2a2a" stroke-width="0.3" textLength="33.0" lengthAdjust="spacing" >利润的梯队</text>
<path d="M65.0,354.4H108.5" fill="none" stroke="#a8a8bc" stroke-width="1.0" />
<text x="101.9" y="363.7" text-anchor="end" font-size="6.5" fill="#2a2a2a" font-weight="normal" stroke="#2a2a2a" stroke-width="0.3" textLength="52.8" lengthAdjust="spacing" >中期目标的发力区</text>
<path d="M45.8,366.9H106.0" fill="none" stroke="#a8a8bc" stroke-width="1.0" />
<text x="144.6" y="376.2" text-anchor="end" font-size="6.5" fill="#2a2a2a" font-weight="normal" stroke="#2a2a2a" stroke-width="0.3" textLength="52.8" lengthAdjust="spacing" >重点类目产品占比</text>
<path d="M88.5,379.4H151" fill="none" stroke="#a8a8bc" stroke-width="1.0" />
<text x="144.6" y="388.3" text-anchor="end" font-size="6.5" fill="#2a2a2a" font-weight="normal" stroke="#2a2a2a" stroke-width="0.3" textLength="59.4" lengthAdjust="spacing" >明星产品挑选及优化</text>
<path d="M81.9,391.5H151" fill="none" stroke="#a8a8bc" stroke-width="1.0" />
<text x="144.6" y="401.0" text-anchor="end" font-size="6.5" fill="#2a2a2a" font-weight="normal" stroke="#2a2a2a" stroke-width="0.3" textLength="39.6" lengthAdjust="spacing" >产品上新计划</text>
<path d="M101.7,404.2H151" fill="none" stroke="#a8a8bc" stroke-width="1.0" />
<text x="144.6" y="413.1" text-anchor="end" font-size="6.5" fill="#2a2a2a" font-weight="normal" stroke="#2a2a2a" stroke-width="0.3" textLength="39.6" lengthAdjust="spacing" >产品淘汰机制</text>
<path d="M101.7,416.3H147.5" fill="none" stroke="#a8a8bc" stroke-width="1.0" />
<path d="M210.5,443.9Q214,443.9 214,447.4V511.67999999999995Q214,515.18 210.5,515.18" fill="none" stroke="#80bcb0" stroke-width="1.0" />
<path d="M214,473.9H221.5" fill="none" stroke="#c8cce8" stroke-width="1.6" />
<circle cx="218.1" cy="473.9" r="2.1" fill="#d2daee" stroke="none" stroke-width="0"/>
<text x="207.5" y="440.7" text-anchor="end" font-size="6.5" fill="#2a2a2a" font-weight="normal" stroke="#2a2a2a" stroke-width="0.3" textLength="39.6" lengthAdjust="spacing" >产品外观包装</text>
<path d="M164.6,443.9H210.5" fill="none" stroke="#b2babe" stroke-width="1.0" />
<text x="207.5" y="452.58" text-anchor="end" font-size="6.5" fill="#2a2a2a" font-weight="normal" stroke="#2a2a2a" stroke-width="0.3" textLength="39.6" lengthAdjust="spacing" >产品宣传包装</text>
<path d="M164.6,455.78H214" fill="none" stroke="#b2babe" stroke-width="1.0" />
<text x="207.5" y="464.46000000000004" text-anchor="end" font-size="6.5" fill="#2a2a2a" font-weight="normal" stroke="#2a2a2a" stroke-width="0.3" textLength="39.6" lengthAdjust="spacing" >产品卖点包装</text>
<path d="M164.6,467.66H214" fill="none" stroke="#b2babe" stroke-width="1.0" />
<text x="207.5" y="476.34000000000003" text-anchor="end" font-size="6.5" fill="#2a2a2a" font-weight="normal" stroke="#2a2a2a" stroke-width="0.3" textLength="39.6" lengthAdjust="spacing" >市场情况包装</text>
<path d="M164.6,479.54H214" fill="none" stroke="#b2babe" stroke-width="1.0" />
<text x="207.5" y="488.22" text-anchor="end" font-size="6.5" fill="#2a2a2a" font-weight="normal" stroke="#2a2a2a" stroke-width="0.3" textLength="26.4" lengthAdjust="spacing" >口碑包装</text>
<path d="M177.8,491.42H214" fill="none" stroke="#b2babe" stroke-width="1.0" />
<text x="207.5" y="500.1" text-anchor="end" font-size="6.5" fill="#2a2a2a" font-weight="normal" stroke="#2a2a2a" stroke-width="0.3" textLength="25.5" lengthAdjust="spacing" >子主题 6</text>
<path d="M178.7,503.3H214" fill="none" stroke="#b2babe" stroke-width="1.0" />
<text x="207.5" y="511.97999999999996" text-anchor="end" font-size="6.5" fill="#2a2a2a" font-weight="normal" stroke="#2a2a2a" stroke-width="0.3" textLength="46.2" lengthAdjust="spacing" >产品功能点包装</text>
<path d="M158.0,515.18H210.5" fill="none" stroke="#b2babe" stroke-width="1.0" />
<path d="M433.1,393.3Q429.6,393.3 429.6,396.8V540.7Q429.6,544.2 433.1,544.2" fill="none" stroke="#78b078" stroke-width="1.0" />
<path d="M422.8,449H429.6" fill="none" stroke="#c8cce8" stroke-width="1.6" />
<circle cx="425.8" cy="449" r="2.1" fill="#d2daee" stroke="none" stroke-width="0"/>
<text x="445.8" y="390.1" text-anchor="start" font-size="6.5" fill="#2a2a2a" font-weight="normal" stroke="#2a2a2a" stroke-width="0.3" textLength="26.4" lengthAdjust="spacing" >核心人群</text>
<path d="M433.1,393.3H481.7" fill="none" stroke="#b4ccb4" stroke-width="1.0" />
<circle cx="478" cy="387.2" r="2.1" fill="#d2daee" stroke="none" stroke-width="0"/>
<path d="M484.2,375.3Q481.7,375.3 481.7,377.8V410.0Q481.7,412.5 484.2,412.5" fill="none" stroke="#78b078" stroke-width="1.0" />
<text x="489.2" y="372.1" text-anchor="start" font-size="6.5" fill="#2a2a2a" font-weight="normal" stroke="#2a2a2a" stroke-width="0.3" textLength="19.8" lengthAdjust="spacing" >共同点</text>
<path d="M484.2,375.3H512.3" fill="none" stroke="#b4ccb4" stroke-width="1.0" />
<text x="489.2" y="384.3" text-anchor="start" font-size="6.5" fill="#2a2a2a" font-weight="normal" stroke="#2a2a2a" stroke-width="0.3" textLength="26.4" lengthAdjust="spacing" >消费心态</text>
<path d="M481.7,387.5H518.9" fill="none" stroke="#b4ccb4" stroke-width="1.0" />
<text x="489.2" y="396.3" text-anchor="start" font-size="6.5" fill="#2a2a2a" font-weight="normal" stroke="#2a2a2a" stroke-width="0.3" textLength="26.4" lengthAdjust="spacing" >在乎什么</text>
<path d="M481.7,399.5H518.9" fill="none" stroke="#b4ccb4" stroke-width="1.0" />
<text x="489.2" y="409.3" text-anchor="start" font-size="6.5" fill="#2a2a2a" font-weight="normal" stroke="#2a2a2a" stroke-width="0.3" textLength="26.4" lengthAdjust="spacing" >需求什么</text>
<path d="M484.2,412.5H518.9" fill="none" stroke="#b4ccb4" stroke-width="1.0" />
<text x="436.2" y="443.5" text-anchor="start" font-size="6.5" fill="#2a2a2a" font-weight="normal" stroke="#2a2a2a" stroke-width="0.3" textLength="26.4" lengthAdjust="spacing" >消费层次</text>
<path d="M429.6,446.7H471.8" fill="none" stroke="#b4ccb4" stroke-width="1.0" />
<circle cx="468.5" cy="441.2" r="2.1" fill="#d2daee" stroke="none" stroke-width="0"/>
<path d="M474.3,434.2Q471.8,434.2 471.8,436.7V455.7Q471.8,458.2 474.3,458.2" fill="none" stroke="#78b078" stroke-width="1.0" />
<text x="478.2" y="431.0" text-anchor="start" font-size="6.5" fill="#2a2a2a" font-weight="normal" stroke="#2a2a2a" stroke-width="0.3" textLength="13.2" lengthAdjust="spacing" >价格</text>
<path d="M474.3,434.2H494.7" fill="none" stroke="#b4ccb4" stroke-width="1.0" />
<text x="478.2" y="443.5" text-anchor="start" font-size="6.5" fill="#2a2a2a" font-weight="normal" stroke="#2a2a2a" stroke-width="0.3" textLength="26.4" lengthAdjust="spacing" >社会层次</text>
<path d="M471.8,446.7H507.9" fill="none" stroke="#b4ccb4" stroke-width="1.0" />
<text x="478.2" y="455.0" text-anchor="start" font-size="6.5" fill="#2a2a2a" font-weight="normal" stroke="#2a2a2a" stroke-width="0.3" textLength="13.2" lengthAdjust="spacing" >品味</text>
<path d="M474.3,458.2H494.7" fill="none" stroke="#b4ccb4" stroke-width="1.0" />
<text x="436.2" y="468.1" text-anchor="start" font-size="6.5" fill="#2a2a2a" font-weight="normal" stroke="#2a2a2a" stroke-width="0.3" textLength="26.4" lengthAdjust="spacing" >年龄层次</text>
<path d="M429.6,471.3H465.9" fill="none" stroke="#b4ccb4" stroke-width="1.0" />
<text x="436.2" y="479.6" text-anchor="start" font-size="6.5" fill="#2a2a2a" font-weight="normal" stroke="#2a2a2a" stroke-width="0.3" textLength="26.4" lengthAdjust="spacing" >重点地域</text>
<path d="M429.6,482.8H465.9" fill="none" stroke="#b4ccb4" stroke-width="1.0" />
<text x="436.2" y="511.00000000000006" text-anchor="start" font-size="6.5" fill="#2a2a2a" font-weight="normal" stroke="#2a2a2a" stroke-width="0.3" textLength="26.4" lengthAdjust="spacing" >竞争对手</text>
<path d="M429.6,514.2H472.2" fill="none" stroke="#b4ccb4" stroke-width="1.0" />
<circle cx="468.5" cy="509" r="2.1" fill="#d2daee" stroke="none" stroke-width="0"/>
<path d="M474.7,496.1Q472.2,496.1 472.2,498.6V529.5Q472.2,532 474.7,532" fill="none" stroke="#78b078" stroke-width="1.0" />
<text x="479.2" y="492.90000000000003" text-anchor="start" font-size="6.5" fill="#2a2a2a" font-weight="normal" stroke="#2a2a2a" stroke-width="0.3" textLength="39.6" lengthAdjust="spacing" >重点产品特点</text>
<path d="M474.7,496.1H522.1" fill="none" stroke="#b4ccb4" stroke-width="1.0" />
<text x="479.2" y="505.2" text-anchor="start" font-size="6.5" fill="#2a2a2a" font-weight="normal" stroke="#2a2a2a" stroke-width="0.3" textLength="39.6" lengthAdjust="spacing" >市场中有哪些</text>
<path d="M472.2,508.4H522.1" fill="none" stroke="#b4ccb4" stroke-width="1.0" />
<text x="479.2" y="517.0" text-anchor="start" font-size="6.5" fill="#2a2a2a" font-weight="normal" stroke="#2a2a2a" stroke-width="0.3" textLength="39.6" lengthAdjust="spacing" >竞争产品优势</text>
<path d="M472.2,520.2H522.1" fill="none" stroke="#b4ccb4" stroke-width="1.0" />
<text x="479.2" y="528.8" text-anchor="start" font-size="6.5" fill="#2a2a2a" font-weight="normal" stroke="#2a2a2a" stroke-width="0.3" textLength="33.0" lengthAdjust="spacing" >与自身比较</text>
<path d="M474.7,532H515.5" fill="none" stroke="#b4ccb4" stroke-width="1.0" />
<text x="436.2" y="541.0" text-anchor="start" font-size="6.5" fill="#2a2a2a" font-weight="normal" stroke="#2a2a2a" stroke-width="0.3" textLength="33.0" lengthAdjust="spacing" >市场的容积</text>
<path d="M433.1,544.2H472.5" fill="none" stroke="#b4ccb4" stroke-width="1.0" />
<rect x="204.5" y="72.7" width="58.1" height="20.6" rx="2.5" fill="url(#gb)" stroke="#a4a4bc" stroke-width="1.1"/>
<circle cx="215.1" cy="83.0" r="7.3" fill="url(#ig)" stroke="rgba(0,0,0,0.15)" stroke-width="0.6"/>
<ellipse cx="215.1" cy="80.0" rx="5" ry="3.3" fill="#fff" fill-opacity="0.28"/>
<text x="215.1" y="86.5" text-anchor="middle" font-size="10" font-weight="bold" fill="#fff" fill-opacity="0.9">4</text>
<text x="224.1" y="86.3" text-anchor="start" font-size="8.7" fill="#333" font-weight="normal" stroke="#333" stroke-width="0.2" textLength="34.8" lengthAdjust="spacing" >品牌定位</text>
<rect x="347.7" y="98.7" width="101.1" height="20.5" rx="2.5" fill="url(#gb)" stroke="#a4a4bc" stroke-width="1.1"/>
<circle cx="358.3" cy="108.95" r="7.3" fill="url(#ib)" stroke="rgba(0,0,0,0.15)" stroke-width="0.6"/>
<ellipse cx="358.3" cy="105.95" rx="5" ry="3.3" fill="#fff" fill-opacity="0.28"/>
<text x="358.3" y="112.45" text-anchor="middle" font-size="10" font-weight="bold" fill="#fff" fill-opacity="0.9">3</text>
<text x="367.3" y="112.25" text-anchor="start" font-size="8.7" fill="#333" font-weight="normal" stroke="#333" stroke-width="0.2" textLength="78.3" lengthAdjust="spacing" >吸引核心人群话题点</text>
<rect x="368.2" y="248.2" width="66.8" height="21" rx="2.5" fill="url(#gb2)" stroke="#a4a4bc" stroke-width="1.1"/>
<circle cx="378.8" cy="258.7" r="7.3" fill="url(#io)" stroke="rgba(0,0,0,0.15)" stroke-width="0.6"/>
<ellipse cx="378.8" cy="255.7" rx="5" ry="3.3" fill="#fff" fill-opacity="0.28"/>
<text x="378.8" y="262.2" text-anchor="middle" font-size="10" font-weight="bold" fill="#fff" fill-opacity="0.9">2</text>
<text x="387.8" y="262.0" text-anchor="start" font-size="8.7" fill="#333" font-weight="normal" stroke="#333" stroke-width="0.2" textLength="43.5" lengthAdjust="spacing" >产品、企业</text>
<rect x="347.2" y="438.3" width="75.4" height="21.4" rx="2.5" fill="url(#gb2)" stroke="#a4a4bc" stroke-width="1.1"/>
<circle cx="357.8" cy="449.0" r="7.3" fill="url(#ir)" stroke="rgba(0,0,0,0.15)" stroke-width="0.6"/>
<ellipse cx="357.8" cy="446.0" rx="5" ry="3.3" fill="#fff" fill-opacity="0.28"/>
<text x="357.8" y="452.5" text-anchor="middle" font-size="10" font-weight="bold" fill="#fff" fill-opacity="0.9">1</text>
<text x="366.8" y="452.3" text-anchor="start" font-size="8.7" fill="#333" font-weight="normal" stroke="#333" stroke-width="0.2" textLength="52.2" lengthAdjust="spacing" >细分消费市场</text>
<rect x="221.3" y="463.7" width="41.9" height="21.3" rx="2.5" fill="url(#gb2)" stroke="#a4a4bc" stroke-width="1.1"/>
<circle cx="231.9" cy="474.34999999999997" r="7.3" fill="url(#iy)" stroke="rgba(0,0,0,0.15)" stroke-width="0.6"/>
<ellipse cx="231.9" cy="471.34999999999997" rx="5" ry="3.3" fill="#fff" fill-opacity="0.28"/>
<text x="231.9" y="477.84999999999997" text-anchor="middle" font-size="10" font-weight="bold" fill="#fff" fill-opacity="0.9">6</text>
<text x="240.9" y="477.65" text-anchor="start" font-size="8.7" fill="#333" font-weight="normal" stroke="#333" stroke-width="0.2" textLength="17.4" lengthAdjust="spacing" >包装</text>
<rect x="157.5" y="288.2" width="75.9" height="21.5" rx="2.5" fill="url(#gb2)" stroke="#a4a4bc" stroke-width="1.1"/>
<circle cx="168.1" cy="298.95" r="7.3" fill="url(#ip)" stroke="rgba(0,0,0,0.15)" stroke-width="0.6"/>
<ellipse cx="168.1" cy="295.95" rx="5" ry="3.3" fill="#fff" fill-opacity="0.28"/>
<text x="168.1" y="302.45" text-anchor="middle" font-size="10" font-weight="bold" fill="#fff" fill-opacity="0.9">5</text>
<text x="177.1" y="302.25" text-anchor="start" font-size="8.7" fill="#333" font-weight="normal" stroke="#333" stroke-width="0.2" textLength="52.2" lengthAdjust="spacing" >产品结构规划</text>
<ellipse cx="300.9" cy="279.25" rx="36.9" ry="19" fill="url(#gc)" stroke="#a0bc98" stroke-width="1"/>
<text x="300.5" y="283.4" text-anchor="middle" font-size="11.2" fill="#2a3328" font-weight="bold" stroke="#2a3328" stroke-width="0.15" textLength="48.0" lengthAdjust="spacing" >电商产品</text>
<g fill="none" stroke="#0a0a0a" stroke-width="2.7" stroke-linecap="round" stroke-linejoin="round"><path d="M453.4,499.6 L463,499.2 L461.6,506"/><path d="M456.6,501.5 L455.2,510 L468.3,509.4 L466.5,516.5 L465.2,520.2 L461.5,518.6"/><path d="M449.6,515.6 L463,513.4"/></g>
<g fill="none" stroke="#0a0a0a" stroke-width="2.7" stroke-linecap="round" stroke-linejoin="round"><path d="M481.4,501 L483.2,503.6"/><path d="M480.6,506.8 L479.6,517.4"/><path d="M491.4,497.7 L486,504.9"/><path d="M487.8,502.5 L496.2,501"/><path d="M483.6,511.2 L502.2,511.8"/></g>
<g fill="none" stroke="#0a0a0a" stroke-width="1.9" stroke-linecap="round" stroke-linejoin="round"><path d="M489,507 L485.1,516"/><path d="M489,507 L493.8,506.4 L493.2,517"/><path d="M485.1,516 L493.8,516"/><path d="M490.8,508.6 L491.2,509.4"/><path d="M491,513.8 L491.4,514.6"/></g>
<g fill="none" stroke="#0a0a0a" stroke-width="2.7" stroke-linecap="round" stroke-linejoin="round"><path d="M514.3,498.2 L516.7,500.4"/><path d="M509.1,506.9 L517.3,505.8 L508,513.9"/><path d="M514.9,508.7 L515,515.2"/><path d="M517.2,508 L518.2,509.2"/><path d="M520.2,500 L521.2,501.4"/><path d="M528.3,497.9 L525.4,501.7"/><path d="M519.6,504.9 L527.8,504.5"/><path d="M519.6,508.7 L527.8,508.5"/><path d="M518.4,512.5 L530,512.8"/><path d="M524.8,501.1 L524.8,515.4"/></g>
<g fill="none" stroke="#0a0a0a" stroke-width="2.7" stroke-linecap="round" stroke-linejoin="round"><path d="M542.6,499.3 L542.6,513.9"/><path d="M538.5,508.1 L544.9,507.5"/><path d="M551.9,497.6 L551.9,514.5"/><path d="M547.8,502.3 L557.2,501.4"/><path d="M556,498.4 L557.2,499.4"/><path d="M548.4,505 L548.4,511"/><path d="M548.4,505 L555.4,504.6 L555.4,511"/><path d="M548.4,508 L555.4,508"/><path d="M542.6,513.3 L560.7,512.2"/></g>
<g fill="none" stroke="#0a0a0a" stroke-width="2.7" stroke-linecap="round" stroke-linejoin="round"><path d="M579,497.3 L580.4,498.8"/><path d="M575.5,502.6 L584.8,501.1 L587.2,504"/><path d="M571.7,505.6 L572.4,506.6"/><path d="M580.8,506.9 L572.6,512.5"/><path d="M576.7,506.9 L581.3,506.9"/><path d="M576.7,508.7 L590.7,516.8"/></g>
<g font-size="11.9" font-weight="bold"><text x="492.3" y="526" fill="#000" stroke="#000" stroke-width="3.6" textLength="95.4" lengthAdjust="spacing" stroke-opacity="0.7">织梦内容管理系统</text>
<text x="492.3" y="526" fill="#000" stroke="#fff" stroke-width="2.0" paint-order="stroke" textLength="95.4" lengthAdjust="spacing">织梦内容管理系统</text></g>
<text x="449" y="536.5" font-size="12" fill="#111" stroke="#111" stroke-width="0.6" textLength="36" lengthAdjust="spacing">WWW.</text>
<g transform="translate(491.3,538) scale(0.78,1)"><text x="0" y="0" font-size="11.3" font-weight="bold" fill="#fff" stroke="#000" stroke-width="2.8" paint-order="stroke" textLength="123.6" lengthAdjust="spacing">DEDECMS.COM</text></g>

</svg>
</body></html>
